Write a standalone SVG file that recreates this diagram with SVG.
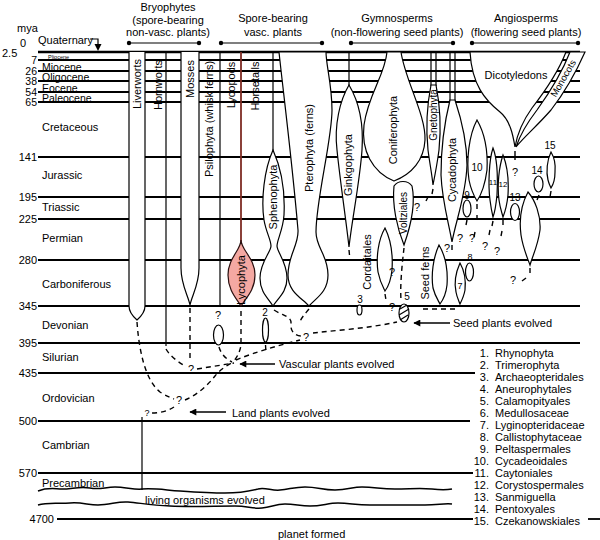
<svg xmlns="http://www.w3.org/2000/svg" width="600" height="540" viewBox="0 0 600 540">
<defs>
<style>
.t{font-family:"Liberation Sans",Arial,sans-serif;font-size:11px;fill:#000}
.s9{font-size:9px}
.s10{font-size:10px}
.ep{font-size:10.5px}
.hl{stroke:#000;stroke-width:1.8;fill:none}
.sh{fill:#fff;stroke:#000;stroke-width:1.2}
.ln{stroke:#000;stroke-width:1.2;fill:none}
.ds{stroke:#000;stroke-width:1.4;fill:none;stroke-dasharray:5 4}
.dot{fill:#000}
</style>
<marker id="ah" viewBox="0 0 10 10" refX="9" refY="5" markerWidth="12" markerHeight="7" orient="auto" markerUnits="userSpaceOnUse"><path d="M0,0 L10,5 L0,10 Z" fill="#000"/></marker>
</defs>
<rect width="600" height="540" fill="#fff"/>

<g id="timescale">
<line class="hl" x1="38" y1="52" x2="580" y2="52" style="stroke-width:2.6"/>
<line class="hl" x1="38" y1="60" x2="580" y2="60"/>
<line class="hl" x1="38" y1="71" x2="580" y2="71"/>
<line class="hl" x1="38" y1="81" x2="580" y2="81"/>
<line class="hl" x1="38" y1="92" x2="580" y2="92"/>
<line class="hl" x1="38" y1="102" x2="580" y2="102"/>
<line class="hl" x1="38" y1="157" x2="580" y2="157"/>
<line class="hl" x1="38" y1="197" x2="580" y2="197"/>
<line class="hl" x1="38" y1="219" x2="580" y2="219"/>
<line class="hl" x1="38" y1="260" x2="580" y2="260"/>
<line class="hl" x1="38" y1="306" x2="580" y2="306"/>
<line class="hl" x1="38" y1="343" x2="580" y2="343"/>
<line class="hl" x1="38" y1="373" x2="475" y2="373"/>
<line class="hl" x1="38" y1="421" x2="470" y2="421"/>
<line class="hl" x1="38" y1="473" x2="473" y2="473"/>
<line class="hl" x1="57" y1="519" x2="473" y2="519"/>
<line class="hl" x1="588" y1="519" x2="600" y2="519"/>
<path class="ln" style="stroke-width:1.5" d="M38,491 C48,487 55,489 62,489 C72,489 80,486 90,488 C100,490 105,487 115,487 C125,487 135,490 142,489 C155,488 165,490 180,491 C195,492 210,493 225,493 C240,493 250,491 258,489 C265,487 272,491 280,490 C290,489 295,487 305,487 C318,487 322,490 335,490 C348,490 352,487 362,487 C375,487 380,489 395,489 C410,489 420,488 432,489 C440,490 447,490 452,489"/>
<path class="ln" style="stroke-width:1.5" d="M38,505 C48,502 58,504 70,503 C82,502 88,505 98,505 C110,505 118,501 128,502 C140,503 150,505 170,506 C190,507 215,506 235,506 C248,506 252,509 262,508 C272,507 275,504 285,504 C295,504 300,506 310,506 C322,506 328,503 338,503 C350,503 355,505 370,505 C390,505 410,505 425,505 C438,505 445,503 452,504"/>
<text class="t" x="17" y="32">mya</text>
<text class="t" x="2" y="57">2.5</text>
<text class="t" x="20" y="47">0</text>
<g text-anchor="end">
<text class="t ep" x="37" y="63.5">7</text>
<text class="t ep" x="37" y="74.5">26</text>
<text class="t ep" x="37" y="84.5">38</text>
<text class="t ep" x="37" y="95.5">54</text>
<text class="t ep" x="37" y="105.5">65</text>
<text class="t" x="37" y="161">141</text>
<text class="t" x="37" y="201">195</text>
<text class="t" x="37" y="223">225</text>
<text class="t" x="37" y="264">280</text>
<text class="t" x="37" y="310">345</text>
<text class="t" x="37" y="347">395</text>
<text class="t" x="37" y="377">435</text>
<text class="t" x="37" y="425">500</text>
<text class="t" x="37" y="477">570</text>
<text class="t" x="54" y="523">4700</text>
</g>
<text class="t" x="38" y="44">Quaternary</text>
<path class="ln" d="M90,39 L98,39 L98,45"/>
<path d="M94.5,44 L101.5,44 L98,51 Z" fill="#000"/>
<text class="t" x="48" y="59" style="font-size:5.5px">Pliocene</text>
<text class="t ep" x="42" y="70.5">Miocene</text>
<text class="t ep" x="42" y="80.5">Oligocene</text>
<text class="t ep" x="42" y="91.5">Eocene</text>
<text class="t ep" x="42" y="101.5">Paleocene</text>
<text class="t" x="42" y="131">Cretaceous</text>
<text class="t" x="42" y="179">Jurassic</text>
<text class="t" x="42" y="211">Triassic</text>
<text class="t" x="42" y="242">Permian</text>
<text class="t" x="42" y="288">Carboniferous</text>
<text class="t" x="42" y="329">Devonian</text>
<text class="t" x="42" y="361">Silurian</text>
<text class="t" x="42" y="402">Ordovician</text>
<text class="t" x="42" y="449">Cambrian</text>
<text class="t" x="42" y="487">Precambrian</text>
<text class="t" x="145" y="504">living organisms evolved</text>
<text class="t" x="278" y="538">planet formed</text>
</g>

<g id="headers" text-anchor="middle">
<text class="t" x="168" y="11">Bryophytes</text>
<text class="t" x="168" y="24">(spore-bearing</text>
<text class="t" x="168" y="36">non-vasc. plants)</text>
<line class="ln" x1="129" y1="43" x2="199" y2="43"/><circle class="dot" cx="129" cy="43" r="2.2"/><circle class="dot" cx="199" cy="43" r="2.2"/>
<text class="t" x="273" y="22">Spore-bearing</text>
<text class="t" x="273" y="36">vasc. plants</text>
<line class="ln" x1="221" y1="43" x2="322" y2="43"/><circle class="dot" cx="221" cy="43" r="2.2"/><circle class="dot" cx="322" cy="43" r="2.2"/>
<text class="t" x="397" y="22">Gymnosperms</text>
<text class="t" x="397" y="36">(non-flowering seed plants)</text>
<line class="ln" x1="351" y1="43" x2="453" y2="43"/><circle class="dot" cx="351" cy="43" r="2.2"/><circle class="dot" cx="453" cy="43" r="2.2"/>
<text class="t" x="526" y="22">Angiosperms</text>
<text class="t" x="526" y="36">(flowering seed plants)</text>
<line class="ln" x1="472" y1="43" x2="578" y2="43"/><circle class="dot" cx="472" cy="43" r="2.2"/><circle class="dot" cx="578" cy="43" r="2.2"/>
</g>

<g id="liverworts"><path class="sh" d="M129,52 L129,306 Q129,313 137,320 Q145,313 145,306 L145,52"/>
<text class="t" text-anchor="middle" transform="translate(141,84) rotate(-90)">Liverworts</text></g>
<g id="hornworts"><line class="ln" x1="166" y1="52" x2="166" y2="346"/>
<text class="t" text-anchor="middle" transform="translate(162,85) rotate(-90)">Hornworts</text></g>
<g id="mosses"><path class="sh" d="M181,52 L181,268 C181,285 188,295 190,305 C192,295 199,285 199,268 L199,52"/>
<text class="t" text-anchor="middle" transform="translate(194,79) rotate(-90)">Mosses</text></g>
<g id="psilophyta"><line class="ln" x1="220" y1="52" x2="220" y2="306"/>
<text class="t" text-anchor="middle" transform="translate(213,119) rotate(-90)">Psilophyta (whisk ferns)</text></g>
<g id="lycophyta"><line x1="241" y1="52" x2="241" y2="244" stroke="#7e2c24" stroke-width="1.8"/>
<path d="M241,240 C241,250 228,258 228,275 C228,290 236,298 241,306 C246,298 255,290 255,275 C255,258 241,250 241,240 Z" fill="#f4a8a2" stroke="#2a1010" stroke-width="1.2"/>
<text class="t" text-anchor="middle" transform="translate(235,85) rotate(-90)">Lycopods</text>
<text class="t" text-anchor="middle" transform="translate(245,280) rotate(-90)">Lycophyta</text></g>
<g id="sphenophyta"><line class="ln" x1="273" y1="52" x2="273" y2="151"/>
<path class="sh" d="M273,150 C264,170 261,200 264,220 C266,232 271,240 271,246 C271,252 260,262 260,278 C260,292 268,298 273,306 C278,298 287,292 287,278 C287,262 277,252 277,246 C277,240 283,230 284,215 C285,195 282,170 273,150 Z"/>
<text class="t" text-anchor="middle" transform="translate(259,86) rotate(-90)">Horsetails</text>
<text class="t" text-anchor="middle" transform="translate(277,197) rotate(-90)">Sphenophyta</text></g>
<g id="pterophyta"><path class="sh" d="M279,52 C283,90 292,160 298,230 C299,245 288,255 288,275 C288,292 302,298 309,306 C316,298 328,292 328,275 C328,255 316,248 316,232 C316,200 332,140 332,110 C332,85 326,65 326,52 Z"/>
<text class="t" text-anchor="middle" transform="translate(313,148) rotate(-90)">Pterophyta (ferns)</text></g>
<g id="ginkgophyta"><line class="ln" x1="349" y1="52" x2="349" y2="86"/>
<path class="sh" d="M349,85 C340,100 334,125 337,150 C340,180 346,220 349,247 C352,220 360,180 362,150 C364,120 358,100 349,85 Z"/>
<text class="t" text-anchor="middle" transform="translate(352,165) rotate(-90)">Ginkgophyta</text></g>
<g id="coniferophyta"><path class="sh" d="M387,52 C385,75 368,95 364,125 C361,150 372,172 394,181 C412,174 424,160 425,140 C426,115 405,80 401,52 Z"/>
<text class="t" text-anchor="middle" transform="translate(397,130) rotate(-90)">Coniferophyta</text></g>
<g id="voltziales"><path class="sh" d="M394,186 C392,205 397,228 404,245 C410,228 416,205 412,186 C408,180 398,180 394,186 Z"/>
<text class="t s10" text-anchor="middle" transform="translate(407,213) rotate(-90)">Voltziales</text></g>
<g id="gnetophyta"><line class="ln" x1="431" y1="52" x2="431" y2="86"/><line class="ln" x1="436" y1="52" x2="436" y2="86"/>
<path class="sh" d="M431,85 C427,105 426,130 428,150 C430,165 432,175 433,185 C435,175 437,165 439,150 C441,130 440,105 436,85 Z"/>
<text class="t s10" text-anchor="middle" transform="translate(436.5,115) rotate(-90)">Gnetophyta</text></g>
<g id="cycadophyta"><line class="ln" x1="450" y1="52" x2="450" y2="101"/><line class="ln" x1="455" y1="52" x2="455" y2="101"/>
<path class="sh" d="M450,100 C445,120 441,150 441,175 C442,200 448,220 452,242 C456,220 466,195 467,165 C467,140 460,115 455,100 Z"/>
<text class="t" text-anchor="middle" transform="translate(456,170) rotate(-90)">Cycadophyta</text></g>
<g id="cordaitales"><path class="sh" d="M385,228 C378,240 376,258 378,272 C380,282 383,287 385,291 C388,287 391,280 392,270 C393,255 391,240 385,228 Z"/>
<text class="t" text-anchor="middle" transform="translate(371,262) rotate(-90)">Cordaitales</text></g>
<g id="seed-ferns"><path class="sh" d="M439,245 C433,258 431,275 433,288 C435,296 438,300 440,304 C443,300 446,294 447,285 C448,270 445,255 439,245 Z"/>
<text class="t" text-anchor="middle" transform="translate(429,273) rotate(-90)">Seed ferns</text></g>
<g id="n7"><path class="sh" d="M460,263 C456,272 454,283 456,292 C457,298 459,301 460,304 C462,300 464,296 465,290 C466,280 464,270 460,263 Z"/>
<text class="t s9" text-anchor="middle" x="460" y="289">7</text></g>
<g id="n8"><ellipse class="sh" cx="469.5" cy="272" rx="4" ry="9"/><text class="t s9" text-anchor="middle" x="470" y="260">8</text></g>
<g id="n9"><ellipse class="sh" cx="467" cy="208.5" rx="4" ry="8.5"/><text class="t s10" text-anchor="middle" x="467" y="199">9</text></g>
<g id="n10"><path class="sh" d="M477,120 C469,135 466,160 469,180 C471,190 474,196 477,201 C481,195 485,185 487,170 C488,150 484,132 477,120 Z"/>
<text class="t s10" text-anchor="middle" x="477" y="171">10</text></g>
<g id="n11"><path class="sh" d="M493,148 C489,160 488,185 490,200 C491,208 492,213 493,217 C495,212 496,205 497,195 C498,175 497,158 493,148 Z"/>
<text class="t" text-anchor="middle" x="493" y="185" style="font-size:8px">11</text></g>
<g id="n12"><path class="sh" d="M503,155 C499,167 497,185 499,200 C500,208 502,213 503,217 C505,212 507,205 508,195 C509,178 507,165 503,155 Z"/>
<text class="t" text-anchor="middle" x="503" y="187" style="font-size:8px">12</text></g>
<g id="n13"><ellipse class="sh" cx="515" cy="212" rx="4.5" ry="8.5"/><text class="t s10" text-anchor="middle" x="515" y="201">13</text></g>
<g id="n13b"><path class="sh" d="M528,192 C521,205 519,220 521,235 C523,248 527,257 530,265 C533,255 538,245 540,230 C541,215 535,200 528,192 Z"/></g>
<g id="n14"><ellipse class="sh" cx="538.5" cy="184" rx="4.5" ry="8"/><text class="t s10" text-anchor="middle" x="537" y="174">14</text></g>
<g id="n15"><path class="sh" d="M551,152 C547,160 546,172 548,180 C549,184 550,186 551,188 C553,185 555,180 555,172 C556,162 554,157 551,152 Z"/>
<text class="t s10" text-anchor="middle" x="550" y="149">15</text></g>
<g id="n2"><ellipse class="sh" cx="265.5" cy="330" rx="3" ry="12"/><text class="t s10" text-anchor="middle" x="265" y="316">2</text></g>
<g id="n3"><ellipse class="sh" cx="359.5" cy="310" rx="2.5" ry="5"/><text class="t s10" text-anchor="middle" x="360" y="303">3</text></g>
<g id="n5"><ellipse class="sh" cx="404" cy="313" rx="5" ry="9"/><path class="ln" d="M400,309 L407,305 M399,315 L409,309 M400,320 L408,315"/><text class="t s10" text-anchor="middle" x="407" y="300">5</text></g>
<g id="q-oval"><ellipse class="sh" cx="218.5" cy="335" rx="5" ry="10"/></g>
<g id="dicotyledons"><path class="sh" d="M470,52 C472,85 485,100 500,112 C510,120 513,135 515,147 C517,135 522,122 532,108 C546,90 559,70 566,52 Z"/>
<text class="t" text-anchor="middle" x="516" y="79">Dicotyledons</text></g>
<g id="monocots"><path class="sh" d="M570,52 C563,70 550,92 537,110 C527,123 520,135 516,147 C523,138 537,126 551,110 C565,92 577,70 585,52 Z"/>
<text class="t" text-anchor="middle" transform="translate(566,80) rotate(-60)" style="font-size:9.5px">Monocots</text></g>

<g id="question-marks" class="t" text-anchor="middle">
<text class="t" x="218" y="319">?</text>
<text class="t" x="306" y="341">?</text>
<text class="t" x="191" y="373">?</text>
<text class="t" x="179" y="404">?</text>
<text class="t s9" x="147" y="416">?</text>
<text class="t" x="392" y="276">?</text>
<text class="t" x="392" y="311">?</text>
<text class="t" x="417" y="211">?</text>
<text class="t" x="447" y="252">?</text>
<text class="t" x="460" y="242">?</text>
<text class="t" x="472" y="242">?</text>
<text class="t" x="485" y="250">?</text>
<text class="t" x="497" y="255">?</text>
<text class="t" x="515" y="176">?</text>
<text class="t" x="513" y="284">?</text>
</g>

<g id="connectors">
<path class="ds" d="M137,322 C139,350 145,380 160,392 C166,396 172,398 174,399"/>
<path class="ds" d="M166,349 C170,356 178,362 185,366"/>
<path class="ds" d="M190,308 L190,361"/>
<path class="ds" d="M185,400 C197,395 208,385 215,376 C220,370 227,365 234,362"/>
<path class="ds" d="M197,369 L234,363"/>
<path class="ds" d="M174,407 C168,411 160,413 152,413"/>
<line class="ln" x1="142" y1="417" x2="142" y2="490"/>
<path class="ds" d="M241,311 L241,345 C240,352 237,357 234,361"/>
<path class="ds" d="M219,347 C221,354 226,359 232,362"/>
<path class="ds" d="M236,360 C255,352 280,345 300,340"/>
<path class="ds" d="M274,310 C283,316 292,316 291,324 C290,332 296,336 301,336"/>
<path class="ds" d="M309,309 C305,314 301,318 300,322"/>
<path class="ds" d="M313,333 C340,330 370,328 397,322"/>
<path class="ds" d="M404,248 C402,265 400,285 401,300"/>
<path class="ds" d="M385,294 L386,300"/>
<path class="ds" d="M349,250 L350,260"/>
<path class="ds" d="M423,309 L456,309"/>
<path class="ds" d="M265.5,345 L266,352"/>
<g class="ln" style="stroke-width:1.4">
<line x1="551" y1="191" x2="550" y2="197"/>
<line x1="539" y1="195" x2="537" y2="200"/>
<line x1="477" y1="204" x2="477" y2="209"/>
<line x1="477" y1="215" x2="477" y2="219"/>
<line x1="493" y1="221" x2="492" y2="226"/>
<line x1="490" y1="230" x2="489" y2="235"/>
<line x1="503" y1="220" x2="503" y2="225"/>
<line x1="502" y1="231" x2="501" y2="236"/>
<line x1="467" y1="220" x2="466" y2="225"/>
<line x1="475" y1="232" x2="474" y2="237"/>
<line x1="515" y1="151" x2="515" y2="160"/>
<line x1="530" y1="268" x2="530" y2="273"/>
<line x1="522" y1="281" x2="526" y2="278"/>
<line x1="433" y1="189" x2="432" y2="194"/>
<line x1="428" y1="197" x2="426" y2="201"/>
<line x1="452" y1="245" x2="452" y2="250"/>
</g>
<line class="ln" x1="226" y1="412" x2="190" y2="412" style="stroke-width:1.6" marker-end="url(#ah)"/>
<line class="ln" x1="275" y1="364" x2="240" y2="364" style="stroke-width:1.6" marker-end="url(#ah)"/>
<line class="ln" x1="450" y1="323" x2="414" y2="323" style="stroke-width:1.6" marker-end="url(#ah)"/>
<text class="t" x="232" y="417">Land plants evolved</text>
<text class="t" x="279" y="368">Vascular plants evolved</text>
<text class="t" x="453" y="327">Seed plants evolved</text>
</g>

<g id="legend">
<g text-anchor="end">
<text class="t" x="489" y="357">1.</text>
<text class="t" x="489" y="369">2.</text>
<text class="t" x="489" y="381">3.</text>
<text class="t" x="489" y="393">4.</text>
<text class="t" x="489" y="405">5.</text>
<text class="t" x="489" y="417">6.</text>
<text class="t" x="489" y="429">7.</text>
<text class="t" x="489" y="441">8.</text>
<text class="t" x="489" y="453">9.</text>
<text class="t" x="489" y="465">10.</text>
<text class="t" x="489" y="477">11.</text>
<text class="t" x="489" y="489">12.</text>
<text class="t" x="489" y="501">13.</text>
<text class="t" x="489" y="513">14.</text>
<text class="t" x="489" y="525">15.</text>
</g>
<text class="t" x="495" y="357">Rhynophyta</text>
<text class="t" x="495" y="369">Trimerophyta</text>
<text class="t" x="495" y="381">Archaeopteridales</text>
<text class="t" x="495" y="393">Aneurophytales</text>
<text class="t" x="495" y="405">Calamopityales</text>
<text class="t" x="495" y="417">Medullosaceae</text>
<text class="t" x="495" y="429">Lyginopteridaceae</text>
<text class="t" x="495" y="441">Callistophytaceae</text>
<text class="t" x="495" y="453">Peltaspermales</text>
<text class="t" x="495" y="465">Cycadeoidales</text>
<text class="t" x="495" y="477">Caytoniales</text>
<text class="t" x="495" y="489">Corystospermales</text>
<text class="t" x="495" y="501">Sanmiguella</text>
<text class="t" x="495" y="513">Pentoxyales</text>
<text class="t" x="495" y="525">Czekanowskiales</text>
</g>
</svg>
